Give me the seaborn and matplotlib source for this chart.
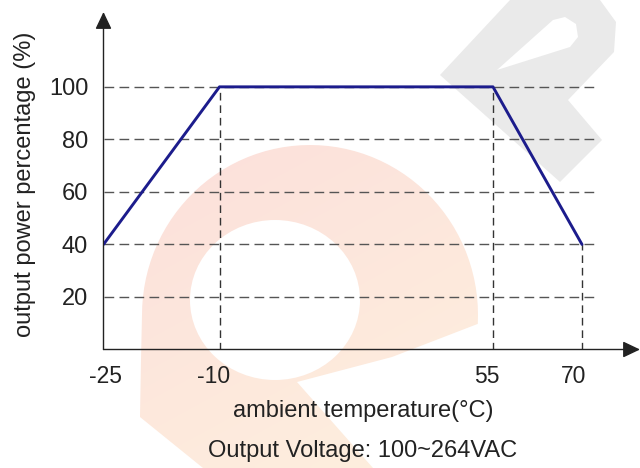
import numpy as np
import pandas as pd
import matplotlib
matplotlib.use("Agg")
import matplotlib.pyplot as plt
import matplotlib.transforms as mtransforms
import seaborn as sns
from matplotlib.patches import Polygon, Ellipse

# ---- data ----
temperature = [-25, -10, 55, 70]
power = [40, 100, 100, 40]
x_ticks = [-25, -10, 55, 70]
x_tick_labels = ["-25", "-10", "55", "70"]
y_ticks = [20, 40, 60, 80, 100]
y_tick_labels = ["20", "40", "60", "80", "100"]
x_label = "ambient temperature(°C)"
y_label = "output power percentage (%)"
note = "Output Voltage: 100~264VAC"

sns.set_theme(style="white")
plt.rcParams['font.family'] = ['Liberation Sans', 'DejaVu Sans']

W, H = 640, 468
fig = plt.figure(figsize=(6.4, 4.68), dpi=100)
fig.patch.set_facecolor('white')

# ---- watermark (decoration, pixel space) ----
bg = fig.add_axes([0, 0, 1, 1], zorder=0)
bg.set_xlim(0, W)
bg.set_ylim(H, 0)
bg.axis('off')

cx, cy, rx, ry = 310, 315, 168, 170
th = np.radians(np.linspace(180, -3, 60))
arc = np.column_stack([cx + rx * np.cos(th), cy - ry * np.sin(th)])
blob = np.vstack([arc, [[392, 357], [297, 382], [373, 468], [203, 468],
                        [140, 417], [141, 360]]])
blob_patch = Polygon(blob, closed=True, facecolor='none', edgecolor='none')
bg.add_patch(blob_patch)
gx, gy = np.meshgrid(np.linspace(0, 1, 160), np.linspace(0, 1, 120))
t = np.clip((gx * 0.6 + gy * 0.8 - 0.35) / 0.9, 0, 1)[..., None]
c0 = np.array([252, 223, 219]) / 255
c1 = np.array([254, 240, 222]) / 255
img = c0 * (1 - t) + c1 * t
im = bg.imshow(img, extent=[0, W, H, 0], aspect='auto', interpolation='bilinear', zorder=0)
im.set_clip_path(blob_patch)
bg.add_patch(Ellipse((275, 300), 170, 160, facecolor='white', edgecolor='none', zorder=1))

gray = '#eaeaea'
bg.add_patch(Polygon([[440, 75], [510, 0], [600, 0], [616, 22], [614, 52], [568, 100],
                      [602, 140], [560, 182]],
                     closed=True, facecolor=gray, edgecolor='none', zorder=1))
bg.add_patch(Polygon([[497, 70], [553, 20], [565, 17], [576, 24], [578, 37], [570, 47]],
                     closed=True, facecolor='white', edgecolor='none', zorder=2))

# ---- main axes ----
ax = fig.add_axes([103.5 / W, (H - 349.5) / H, (W - 103.5) / W, (349.5 - 12) / H], zorder=1)
ax.patch.set_alpha(0)

xp_data = [-25, -10, 55, 70, 85]
xp_pix = [103.5, 219.5, 493, 582, 671]
fwd = lambda v: np.interp(v, xp_data, xp_pix)
inv = lambda p: np.interp(p, xp_pix, xp_data)
ax.set_xscale('function', functions=(fwd, inv))
ax.set_xlim(-25, float(inv(640)))
ax.set_ylim(0, 128.5)

grid_right = 72.5
ax.hlines(y_ticks, xmin=-25, xmax=grid_right, colors='#555555', linestyles=(0, (7, 3.8)), lw=1, zorder=2)
ax.vlines(temperature[1:], 0, power[1:], colors='#333333', linestyles=(0, (5.5, 3.5)), lw=1, zorder=2)

df = pd.DataFrame({'temperature': temperature, 'power': power})
sns.lineplot(data=df, x='temperature', y='power', color='#1c1c8c', lw=2.1,
             estimator=None, sort=False, ax=ax, zorder=5)

for s in ax.spines.values():
    s.set_visible(False)
arrow = dict(arrowstyle='-|>,head_length=1.05,head_width=0.5', color='#222222', lw=1,
             shrinkA=0, shrinkB=0, mutation_scale=10)
ax.annotate('', xy=(0, 1), xytext=(0, 0), xycoords='axes fraction', arrowprops=arrow, annotation_clip=False)
ax.annotate('', xy=(1, 0), xytext=(0, 0), xycoords='axes fraction', arrowprops=arrow, annotation_clip=False)

ax.set_xticks(x_ticks, x_tick_labels, fontsize=16.5, color='#222222')
ax.set_yticks(y_ticks, y_tick_labels, fontsize=17, color='#222222')
ax.tick_params(axis='x', length=0, pad=11)
ax.tick_params(axis='y', length=0, pad=11)
ax.grid(False)

# small horizontal nudges of x tick labels as in the original drawing (pixels)
label_shift_px = [1.5, -6, -6, -8]
for lab, dx in zip(ax.get_xticklabels(), label_shift_px):
    lab.set_transform(lab.get_transform() + mtransforms.ScaledTranslation(dx / 100, 0, fig.dpi_scale_trans))

ax.set_xlabel(x_label, fontsize=17, color='#222222')
ax.xaxis.set_label_coords((363 - 103.5) / 536.5, (349.5 - 411) / 337.5)
ax.xaxis.label.set_va('center')
ax.set_ylabel(y_label, fontsize=17, color='#222222')
ax.yaxis.set_label_coords((25 - 103.5) / 536.5, (349.5 - 184.5) / 337.5)
ax.yaxis.label.set_va('center')
ax.yaxis.label.set_ha('center')

fig.text(363 / W, 1 - 451 / H, note, ha='center', va='center', fontsize=17, color='#222222')

fig.savefig('out.png', dpi=100)
